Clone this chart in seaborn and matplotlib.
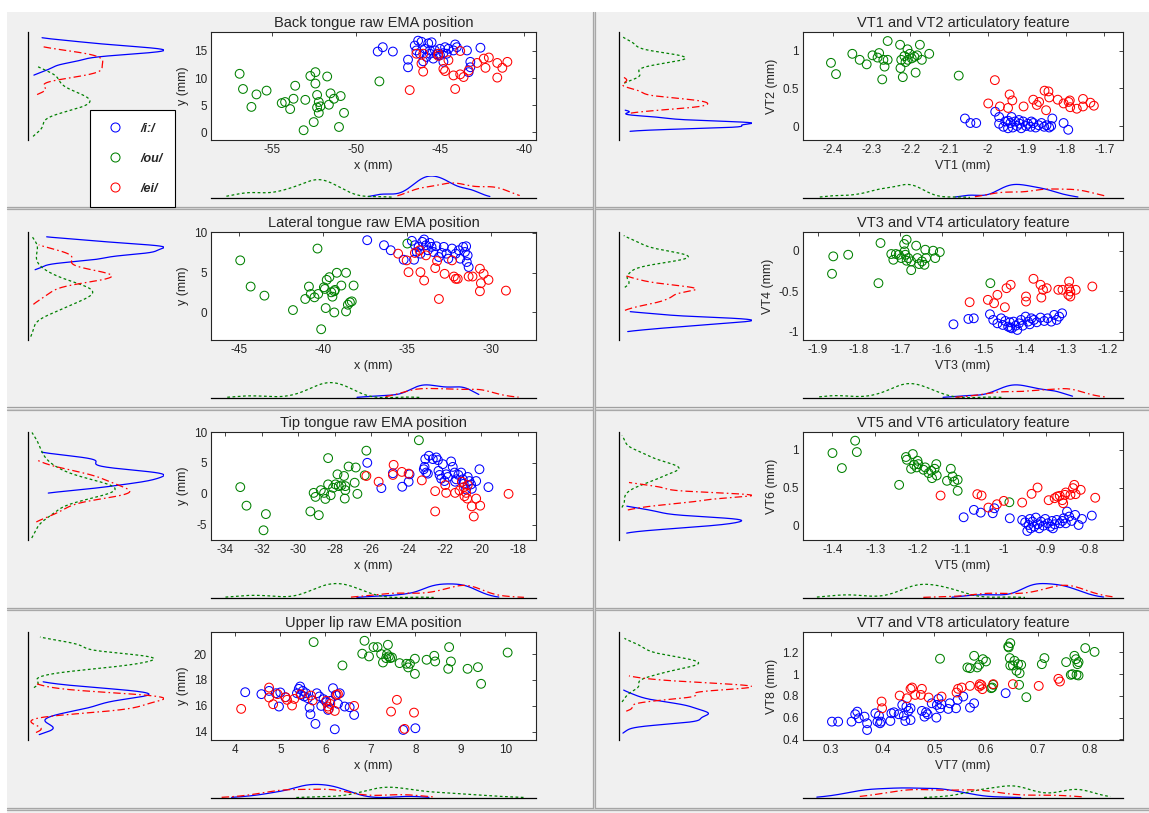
import numpy as np
import pandas as pd
import matplotlib
matplotlib.use("Agg")
import matplotlib.pyplot as plt
from matplotlib.lines import Line2D
from matplotlib.patches import Rectangle
from matplotlib.ticker import FuncFormatter
import seaborn as sns

# ---------------------------------------------------------------- data
VOWELS = ["/i:/", "/ou/", "/ei/"]

# Back tongue sensor (mm)
back_i_x = [-48.7, -48.4, -47.8, -46.9, -46.9, -46.5, -46.3, -46.1, -45.7, -45.5, -45.9, -45.6,
            -45.3, -45.0, -44.7, -44.5, -44.8, -45.2, -45.4, -45.8, -46.2, -46.0, -44.8, -44.1,
            -44.0, -44.2, -43.4, -43.2, -43.2, -43.3, -42.6, -46.4, -45.6, -45.0, -44.6]
back_i_y = [14.9, 15.7, 14.9, 13.4, 12.0, 16.0, 16.9, 16.7, 16.4, 16.6, 15.4, 15.1,
            15.1, 15.4, 15.7, 15.4, 14.6, 14.4, 13.6, 13.9, 14.5, 13.1, 13.0, 16.2,
            15.7, 15.1, 15.1, 13.0, 12.0, 11.1, 15.6, 15.1, 14.5, 14.2, 14.5]
back_u_x = [-56.9, -56.7, -55.9, -55.3, -56.2, -54.4, -54.2, -53.9, -53.7, -53.6, -53.0, -53.1,
            -52.7, -52.4, -52.4, -52.3, -52.2, -52.3, -52.2, -52.1, -52.5, -51.7, -51.5, -51.6,
            -51.3, -50.9, -51.0, -50.7, -48.6]
back_u_y = [10.8, 8.0, 7.0, 7.7, 4.7, 5.4, 5.6, 4.3, 6.2, 8.6, 6.0, 0.4,
            10.4, 11.1, 9.0, 6.9, 5.6, 4.6, 3.6, 4.8, 1.9, 10.3, 7.2, 5.1,
            6.2, 6.7, 1.0, 3.6, 9.4]
back_e_x = [-46.8, -46.4, -46.1, -46.0, -46.0, -45.1, -44.8, -44.7, -44.5, -44.1, -43.8, -43.8,
            -43.6, -43.3, -42.8, -42.4, -42.3, -42.1, -41.6, -41.6, -41.3, -41.0, -44.2, -45.1]
back_e_y = [7.8, 14.5, 12.7, 11.2, 14.5, 14.5, 11.7, 11.3, 13.3, 8.0, 10.7, 15.0,
            10.2, 11.4, 12.8, 13.6, 11.9, 13.8, 10.1, 12.8, 11.9, 13.0, 10.5, 14.1]

# VT1 / VT2 features
vt12_i_x = [-2.059, -2.045, -2.030, -1.981, -1.971, -1.971, -1.960, -1.955, -1.948, -1.942, -1.939,
            -1.936, -1.930, -1.925, -1.918, -1.914, -1.909, -1.902, -1.897, -1.890, -1.883, -1.877,
            -1.869, -1.862, -1.855, -1.849, -1.842, -1.834, -1.837, -1.805, -1.793, -1.948, -1.920,
            -1.888]
vt12_i_y = [0.10, 0.04, 0.04, 0.19, 0.12, 0.03, -0.01, 0.06, -0.03, 0.04, 0.12,
            -0.02, 0.06, 0.00, 0.03, -0.03, 0.06, 0.00, 0.03, -0.01, 0.04, -0.02,
            0.01, 0.04, -0.01, 0.01, -0.02, 0.10, 0.00, 0.04, -0.05, 0.07, 0.08,
            0.06]
vt12_u_x = [-2.404, -2.391, -2.349, -2.330, -2.312, -2.297, -2.280, -2.284, -2.269, -2.266, -2.258,
            -2.258, -2.272, -2.226, -2.223, -2.225, -2.219, -2.215, -2.207, -2.206, -2.201, -2.196,
            -2.189, -2.186, -2.182, -2.175, -2.170, -2.151, -2.075, -2.212]
vt12_u_y = [0.84, 0.69, 0.96, 0.88, 0.82, 0.94, 0.97, 0.91, 0.88, 0.79, 0.88,
            1.13, 0.62, 1.08, 0.88, 0.77, 0.65, 0.93, 1.02, 0.88, 0.96, 0.90,
            0.92, 0.71, 0.94, 1.08, 0.88, 0.96, 0.67, 0.85]
vt12_e_x = [-1.982, -1.999, -1.969, -1.948, -1.944, -1.937, -1.908, -1.883, -1.874, -1.868, -1.850,
            -1.854, -1.844, -1.842, -1.820, -1.805, -1.792, -1.788, -1.771, -1.755, -1.755, -1.736,
            -1.727, -1.789]
vt12_e_y = [0.61, 0.30, 0.26, 0.24, 0.42, 0.34, 0.26, 0.35, 0.28, 0.32, 0.21,
            0.47, 0.46, 0.38, 0.35, 0.30, 0.32, 0.25, 0.23, 0.26, 0.36, 0.31,
            0.27, 0.34]

# Lateral tongue sensor (mm)
lat_i_x = [-37.35, -36.35, -35.95, -35.18, -34.56, -34.69, -34.51, -34.29, -34.07, -33.96, -33.85,
           -33.74, -33.63, -33.52, -33.41, -33.23, -33.08, -32.92, -32.79, -32.63, -32.52, -32.30,
           -32.08, -31.90, -31.81, -31.64, -31.53, -31.42, -31.37, -31.46, -31.31, -34.18, -34.40]
lat_i_y = [9.07, 8.44, 7.81, 6.62, 6.62, 8.99, 8.44, 8.23, 8.86, 9.16, 8.44,
           7.81, 8.73, 8.23, 7.59, 8.31, 6.96, 7.47, 8.23, 7.38, 6.75, 8.02,
           7.38, 7.81, 6.75, 8.23, 7.59, 6.33, 7.17, 8.31, 5.70, 7.38, 7.59]
lat_u_x = [-44.91, -44.29, -43.47, -41.77, -41.04, -40.82, -40.71, -40.49, -40.31, -40.27, -40.09,
           -39.93, -39.87, -39.82, -39.76, -39.60, -39.49, -39.42, -39.31, -39.31, -39.27, -39.16,
           -38.89, -38.61, -38.61, -38.50, -38.38, -38.27, -38.16, -34.96]
lat_u_y = [6.54, 3.25, 2.11, 0.30, 1.69, 3.25, 2.32, 1.90, 8.02, 2.32, -2.11,
           3.16, 2.95, 0.55, 4.09, 4.43, 2.53, 1.98, 2.66, 0.00, 2.83, 4.98,
           3.38, 4.98, 0.13, 0.97, 1.27, 1.39, 3.38, 8.65]
lat_e_x = [-35.51, -35.00, -34.89, -34.51, -34.23, -34.18, -33.96, -33.30, -33.19, -33.08, -32.74,
           -32.30, -32.19, -32.08, -31.96, -31.31, -31.08, -30.64, -30.64, -30.58, -30.42, -30.13,
           -29.09, -33.85]
lat_e_y = [7.38, 6.54, 5.06, 7.47, 7.81, 5.06, 4.01, 5.57, 6.46, 1.69, 4.85,
           6.54, 4.51, 4.22, 4.22, 4.51, 4.51, 2.66, 5.49, 3.67, 4.85, 4.09,
           2.74, 7.17]

# VT3 / VT4 features
vt34_i_x = [-1.572, -1.536, -1.523, -1.484, -1.476, -1.466, -1.457, -1.453, -1.447, -1.440, -1.436,
            -1.431, -1.427, -1.422, -1.418, -1.414, -1.409, -1.405, -1.398, -1.392, -1.384, -1.378,
            -1.371, -1.362, -1.353, -1.345, -1.336, -1.329, -1.323, -1.317, -1.310, -1.435, -1.388]
vt34_i_y = [-0.909, -0.843, -0.835, -0.785, -0.855, -0.897, -0.835, -0.917, -0.868, -0.938, -0.884,
            -0.959, -0.876, -0.926, -0.979, -0.897, -0.855, -0.926, -0.814, -0.876, -0.835, -0.855,
            -0.884, -0.826, -0.868, -0.835, -0.876, -0.793, -0.855, -0.814, -0.773, -0.950, -0.909]
vt34_u_x = [-1.865, -1.862, -1.826, -1.748, -1.753, -1.722, -1.717, -1.711, -1.704, -1.698, -1.691,
            -1.685, -1.690, -1.688, -1.685, -1.681, -1.674, -1.674, -1.662, -1.659, -1.655, -1.648,
            -1.642, -1.640, -1.638, -1.621, -1.616, -1.605, -1.483]
vt34_u_y = [-0.285, -0.070, -0.050, 0.095, -0.401, -0.041, -0.112, -0.041, -0.050, -0.091, 0.083,
            0.136, -0.008, -0.050, -0.124, -0.091, -0.240, -0.132, 0.062, -0.091, -0.165, -0.132,
            -0.174, 0.012, -0.091, 0.000, -0.091, -0.017, -0.401]
vt34_e_x = [-1.533, -1.489, -1.474, -1.466, -1.448, -1.444, -1.434, -1.397, -1.397, -1.379, -1.362,
            -1.360, -1.356, -1.347, -1.319, -1.309, -1.293, -1.293, -1.295, -1.290, -1.277, -1.237,
            -1.290]
vt34_e_y = [-0.636, -0.607, -0.649, -0.545, -0.698, -0.463, -0.421, -0.566, -0.628, -0.347, -0.421,
            -0.579, -0.483, -0.463, -0.483, -0.483, -0.380, -0.463, -0.545, -0.566, -0.483, -0.442,
            -0.504]

# Tongue tip sensor (mm)
tip_i_x = [-26.22, -25.45, -24.82, -24.31, -23.96, -23.91, -23.13, -23.09, -23.00, -23.05, -22.91,
           -22.85, -22.64, -22.45, -22.36, -22.33, -22.27, -22.18, -22.09, -22.00, -21.91, -21.82,
           -21.64, -21.55, -21.45, -21.42, -21.36, -21.24, -21.09, -21.00, -20.95, -20.82, -20.73,
           -20.64, -20.55, -20.51, -20.27, -20.09, -19.60]
tip_i_y = [5.02, 0.93, 3.33, 1.15, 1.96, 3.16, 3.98, 4.36, 3.44, 5.62, 3.27,
           6.16, 5.62, 5.89, 5.46, 3.71, 3.06, 2.45, 4.80, 2.07, 3.16, 2.73,
           5.24, 4.36, 3.44, 1.96, 2.35, 3.06, 3.44, 2.35, 1.64, 0.71, 2.73,
           2.07, 1.53, 0.82, 2.07, 3.98, 1.09]
tip_u_x = [-33.16, -32.82, -31.76, -31.89, -29.33, -28.87, -29.15, -29.05, -28.76, -28.58, -28.51,
           -28.36, -28.36, -28.22, -28.09, -27.96, -27.85, -27.78, -27.64, -27.49, -27.45, -27.42,
           -27.42, -27.24, -26.91, -26.85, -26.76, -26.36, -26.27, -23.40]
tip_u_y = [1.09, -1.91, -3.27, -5.89, -2.84, -3.44, 0.16, -0.49, 0.60, 0.16, -0.82,
           5.78, 1.53, -0.22, 0.98, 1.53, 3.16, 1.25, 1.36, 2.89, -0.76, 1.25,
           0.60, 4.42, 1.80, 4.26, 0.00, 3.00, 6.98, 8.67]
tip_e_x = [-26.27, -25.60, -24.78, -24.82, -24.33, -23.96, -23.24, -22.51, -22.51, -21.96, -21.91,
           -21.42, -21.18, -21.05, -20.95, -20.91, -20.82, -20.76, -20.73, -20.51, -20.40, -20.27,
           -20.05, -18.50]
tip_e_y = [2.89, 1.96, 4.69, 3.06, 3.55, 3.27, 2.18, 0.44, -2.84, 1.42, 0.16,
           0.16, 0.55, 1.96, 1.09, -0.38, 0.16, -0.76, 1.42, -2.02, -3.66, -0.76,
           -1.91, 0.00]

# VT5 / VT6 features
vt56_i_x = [-1.093, -1.069, -1.053, -1.025, -1.021, -0.985, -0.956, -0.949, -0.944, -0.941, -0.938,
            -0.936, -0.932, -0.928, -0.924, -0.920, -0.916, -0.912, -0.906, -0.902, -0.896, -0.890,
            -0.886, -0.880, -0.875, -0.868, -0.862, -0.859, -0.854, -0.851, -0.846, -0.840, -0.832,
            -0.824, -0.816, -0.793, -0.884]
vt56_i_y = [0.114, 0.211, 0.175, 0.167, 0.232, 0.101, 0.079, 0.048, -0.066, 0.013, 0.092,
            -0.031, 0.057, -0.009, 0.110, 0.022, -0.031, 0.057, 0.004, 0.092, 0.035, -0.009,
            0.066, 0.022, 0.079, 0.035, 0.066, 0.101, 0.035, 0.189, 0.123, 0.066, 0.145,
            0.013, 0.092, 0.136, -0.031]
vt56_u_x = [-1.400, -1.378, -1.347, -1.343, -1.244, -1.228, -1.226, -1.216, -1.212, -1.209, -1.203,
            -1.201, -1.199, -1.187, -1.183, -1.175, -1.169, -1.167, -1.161, -1.157, -1.156, -1.132,
            -1.123, -1.119, -1.115, -1.107, -1.107, -0.986]
vt56_u_y = [0.956, 0.759, 1.118, 0.969, 0.539, 0.904, 0.868, 0.750, 0.943, 0.803, 0.768,
            0.855, 0.811, 0.737, 0.768, 0.693, 0.724, 0.627, 0.750, 0.811, 0.662, 0.592,
            0.750, 0.649, 0.583, 0.605, 0.461, 0.311]
vt56_e_x = [-1.147, -1.061, -1.051, -1.035, -1.015, -0.999, -0.956, -0.934, -0.920, -0.894, -0.880,
            -0.874, -0.868, -0.862, -0.860, -0.856, -0.854, -0.843, -0.837, -0.834, -0.831, -0.819,
            -0.785]
vt56_e_y = [0.399, 0.417, 0.399, 0.241, 0.285, 0.329, 0.307, 0.421, 0.504, 0.338, 0.364,
            0.386, 0.395, 0.338, 0.298, 0.408, 0.439, 0.408, 0.496, 0.539, 0.417, 0.474,
            0.370]

# Upper lip sensor (mm)
lip_i_x = [4.22, 4.58, 4.75, 4.90, 4.97, 5.00, 5.11, 5.37, 5.41, 5.44, 5.46, 5.50,
           5.53, 5.57, 5.61, 5.65, 5.67, 5.78, 5.81, 5.87, 5.91, 5.96, 6.02, 6.06,
           6.11, 6.17, 6.21, 6.23, 6.28, 6.32, 6.43, 6.54, 6.64, 7.73, 8.00]
lip_i_y = [17.05, 16.90, 17.15, 16.97, 15.94, 17.03, 16.66, 16.97, 17.31, 17.49, 16.84, 17.15,
           16.72, 16.97, 16.59, 15.86, 15.34, 14.60, 16.97, 16.72, 15.99, 16.51, 16.28, 15.68,
           16.38, 17.36, 14.18, 16.84, 16.15, 16.97, 15.94, 15.89, 15.29, 14.13, 14.26]
lip_u_x = [5.74, 6.38, 6.82, 6.87, 6.97, 7.07, 7.16, 7.24, 7.28, 7.35, 7.39, 7.37,
           7.41, 7.44, 7.48, 7.65, 7.80, 7.84, 7.88, 7.99, 7.99, 8.25, 8.42, 8.44,
           8.75, 8.73, 8.79, 9.16, 9.39, 9.46, 10.05]
lip_u_y = [20.93, 19.12, 20.03, 21.03, 19.82, 20.54, 20.54, 20.00, 19.35, 19.69, 20.72, 20.00,
           19.82, 19.69, 19.74, 19.30, 19.25, 18.97, 19.25, 19.64, 18.47, 19.56, 19.87, 19.43,
           20.54, 18.86, 19.43, 18.86, 18.99, 17.70, 20.12]
lip_e_x = [4.13, 4.75, 4.75, 4.84, 4.94, 5.12, 5.15, 5.26, 5.31, 5.45, 5.68, 5.72,
           6.02, 6.06, 6.08, 6.11, 6.21, 6.25, 6.28, 6.64, 7.59, 7.46, 7.76, 7.97]
lip_e_y = [15.76, 17.41, 16.64, 16.12, 16.90, 16.66, 16.46, 16.02, 16.53, 16.90, 16.79, 16.41,
           16.38, 15.94, 15.76, 16.15, 15.60, 16.84, 16.90, 15.99, 16.46, 15.55, 14.21, 15.47]

# VT7 / VT8 features
vt78_i_x = [0.302, 0.314, 0.340, 0.347, 0.351, 0.354, 0.365, 0.370, 0.370, 0.386, 0.390,
            0.393, 0.395, 0.397, 0.415, 0.417, 0.422, 0.431, 0.438, 0.441, 0.444, 0.446,
            0.450, 0.454, 0.454, 0.476, 0.481, 0.484, 0.487, 0.495, 0.504, 0.505, 0.508,
            0.511, 0.514, 0.527, 0.530, 0.542, 0.545, 0.556, 0.569, 0.577, 0.638]
vt78_i_y = [0.563, 0.563, 0.563, 0.631, 0.655, 0.594, 0.609, 0.548, 0.486, 0.640, 0.563,
            0.618, 0.548, 0.563, 0.569, 0.640, 0.649, 0.631, 0.717, 0.618, 0.569, 0.702,
            0.662, 0.578, 0.686, 0.662, 0.609, 0.649, 0.631, 0.732, 0.600, 0.717, 0.772,
            0.686, 0.723, 0.680, 0.732, 0.686, 0.763, 0.794, 0.692, 0.732, 0.825]
vt78_u_x = [0.511, 0.564, 0.569, 0.577, 0.583, 0.587, 0.594, 0.600, 0.610, 0.612, 0.614,
            0.643, 0.644, 0.647, 0.647, 0.646, 0.652, 0.655, 0.659, 0.665, 0.662, 0.668,
            0.664, 0.678, 0.708, 0.713, 0.755, 0.764, 0.767, 0.771, 0.774, 0.779, 0.775,
            0.777, 0.779, 0.792, 0.810]
vt78_u_y = [1.142, 1.062, 1.055, 1.169, 1.062, 1.086, 1.138, 1.117, 0.871, 0.877, 0.902,
            1.255, 1.246, 1.286, 1.080, 1.148, 1.080, 1.123, 1.031, 1.009, 1.092, 1.086,
            0.902, 0.788, 1.092, 1.148, 1.111, 0.994, 1.000, 1.169, 1.138, 1.111, 0.994,
            1.092, 0.988, 1.240, 1.205]
vt78_e_x = [0.399, 0.398, 0.433, 0.447, 0.454, 0.457, 0.463, 0.476, 0.474, 0.489, 0.514,
            0.543, 0.546, 0.553, 0.569, 0.587, 0.588, 0.593, 0.614, 0.652, 0.702, 0.740,
            0.743, 0.591]
vt78_e_y = [0.686, 0.748, 0.803, 0.778, 0.865, 0.877, 0.809, 0.865, 0.809, 0.785, 0.794,
            0.831, 0.865, 0.877, 0.892, 0.886, 0.908, 0.862, 0.908, 0.908, 0.892, 0.957,
            0.932, 0.900]

# ---------------------------------------------------------------- panel setup
PANELS = [
    dict(title="Back tongue raw EMA position", xlabel="x (mm)", ylabel="y (mm)",
         series=[(back_i_x, back_i_y), (back_u_x, back_u_y), (back_e_x, back_e_y)],
         xlim=(-58.6, -39.3), ylim=(-1.4, 18.5),
         xticks=[-55, -50, -45, -40], yticks=[0, 5, 10, 15], head=1.05),
    dict(title="VT1 and VT2 articulatory feature", xlabel="VT1 (mm)", ylabel="VT2 (mm)",
         series=[(vt12_i_x, vt12_i_y), (vt12_u_x, vt12_u_y), (vt12_e_x, vt12_e_y)],
         xlim=(-2.476, -1.652), ylim=(-0.186, 1.25),
         xticks=[-2.4, -2.3, -2.2, -2.1, -2.0, -1.9, -1.8, -1.7], yticks=[0, 0.5, 1], head=1.7),
    dict(title="Lateral tongue raw EMA position", xlabel="x (mm)", ylabel="y (mm)",
         series=[(lat_i_x, lat_i_y), (lat_u_x, lat_u_y), (lat_e_x, lat_e_y)],
         xlim=(-46.65, -27.3), ylim=(-3.46, 10.1),
         xticks=[-45, -40, -35, -30], yticks=[0, 5, 10], head=1.5),
    dict(title="VT3 and VT4 articulatory feature", xlabel="VT3 (mm)", ylabel="VT4 (mm)",
         series=[(vt34_i_x, vt34_i_y), (vt34_u_x, vt34_u_y), (vt34_e_x, vt34_e_y)],
         xlim=(-1.935, -1.163), ylim=(-1.103, 0.231),
         xticks=[-1.9, -1.8, -1.7, -1.6, -1.5, -1.4, -1.3, -1.2], yticks=[-1, -0.5, 0], head=1.6),
    dict(title="Tip tongue raw EMA position", xlabel="x (mm)", ylabel="y (mm)",
         series=[(tip_i_x, tip_i_y), (tip_u_x, tip_u_y), (tip_e_x, tip_e_y)],
         xlim=(-34.76, -17.0), ylim=(-7.46, 10.0),
         xticks=[-34, -32, -30, -28, -26, -24, -22, -20, -18], yticks=[-5, 0, 5, 10], head=1.6),
    dict(title="VT5 and VT6 articulatory feature", xlabel="VT5 (mm)", ylabel="VT6 (mm)",
         series=[(vt56_i_x, vt56_i_y), (vt56_u_x, vt56_u_y), (vt56_e_x, vt56_e_y)],
         xlim=(-1.469, -0.72), ylim=(-0.184, 1.232),
         xticks=[-1.4, -1.3, -1.2, -1.1, -1.0, -0.9, -0.8], yticks=[0, 0.5, 1], head=1.6),
    dict(title="Upper lip raw EMA position", xlabel="x (mm)", ylabel="y (mm)",
         series=[(lip_i_x, lip_i_y), (lip_u_x, lip_u_y), (lip_e_x, lip_e_y)],
         xlim=(3.46, 10.68), ylim=(13.35, 21.71),
         xticks=[4, 5, 6, 7, 8, 9, 10], yticks=[14, 16, 18, 20], head=1.7),
    dict(title="VT7 and VT8 articulatory feature", xlabel="VT7 (mm)", ylabel="VT8 (mm)",
         series=[(vt78_i_x, vt78_i_y), (vt78_u_x, vt78_u_y), (vt78_e_x, vt78_e_y)],
         xlim=(0.246, 0.865), ylim=(0.394, 1.388),
         xticks=[0.3, 0.4, 0.5, 0.6, 0.7, 0.8], yticks=[0.4, 0.6, 0.8, 1.0, 1.2], head=1.9),
]

COLORS = ["#0000ff", "#008000", "#ff0000"]
LINESTYLES = ["-", (0, (2.2, 2.0)), (0, (6, 2.5, 1.3, 2.5))]
TEXT = "#262626"

# pixel layout of one column: scatter box, left marginal, bottom marginal
COLS = [dict(sx=211, sw=325, lx=28, lw=136), dict(sx=803, sw=320, lx=619, lw=133)]
ROW_TOP = [32, 232, 432, 632]
SCATTER_H = 108

W, H = 1149, 813

sns.set_style("white")
plt.rcParams["font.family"] = ["Liberation Sans", "DejaVu Sans"]
plt.rcParams["axes.unicode_minus"] = False

fig = plt.figure(figsize=(W / 100, H / 100), dpi=100)
fig.patch.set_facecolor("white")


def px_axes(x0, y0, w, h):
    return fig.add_axes([x0 / W, 1 - (y0 + h) / H, w / W, h / H])


# window background and panel separators
fig.add_artist(Rectangle((7 / W, 0), (W - 7) / W, (H - 12) / H, transform=fig.transFigure,
                         facecolor="#f0f0f0", edgecolor="none", zorder=-10))
for yy in [207, 407.5, 608, 807.5]:
    for dy, col in [(0, "#a0a0a0"), (1.2, "#d4d4d4"), (2.4, "#a8a8a8")]:
        fig.add_artist(Line2D([7 / W, 1], [1 - (yy + dy) / H] * 2, transform=fig.transFigure,
                              color=col, lw=0.9, zorder=-5))
for dx, col in [(0, "#a0a0a0"), (1.2, "#d4d4d4"), (2.4, "#a8a8a8")]:
    fig.add_artist(Line2D([(592.5 + dx) / W] * 2, [1 - 12 / H, 1 - 808 / H],
                          transform=fig.transFigure, color=col, lw=0.9, zorder=-5))

fmt = FuncFormatter(lambda v, p: "%g" % round(v, 6))

for k, pnl in enumerate(PANELS):
    row, colidx = divmod(k, 2)
    c = COLS[colidx]
    top = ROW_TOP[row]

    frames = []
    for vowel, (xs, ys) in zip(VOWELS, pnl["series"]):
        frames.append(pd.DataFrame({"x": xs, "y": ys, "vowel": vowel}))
    df = pd.concat(frames, ignore_index=True)

    # main scatter
    ax = px_axes(c["sx"], top, c["sw"], SCATTER_H)
    ax.set_facecolor("white")
    for vowel, color in zip(VOWELS, COLORS):
        sub = df[df["vowel"] == vowel]
        sns.scatterplot(data=sub, x="x", y="y", ax=ax, color=color, facecolor="none",
                        edgecolor=color, s=40, linewidth=0.75, marker="o", legend=False)
    ax.set_xlim(*pnl["xlim"])
    ax.set_ylim(*pnl["ylim"])
    ax.set_xticks(pnl["xticks"])
    ax.set_yticks(pnl["yticks"])
    ax.xaxis.set_major_formatter(fmt)
    ax.yaxis.set_major_formatter(fmt)
    ax.tick_params(direction="in", length=3, width=0.6, top=True, right=True,
                   labelsize=8.5, colors=TEXT, pad=3)
    for sp in ax.spines.values():
        sp.set_visible(True)
        sp.set_color(TEXT)
        sp.set_linewidth(0.8)
    ax.set_title(pnl["title"], fontsize=10.5, color=TEXT, pad=3.5)
    ax.set_xlabel(pnl["xlabel"], fontsize=9, color=TEXT, labelpad=2.5)
    ax.set_ylabel(pnl["ylabel"], fontsize=9, color=TEXT, labelpad=3)

    # left marginal density of y
    axl = px_axes(c["lx"], top, c["lw"], SCATTER_H)
    axl.set_facecolor("none")
    for vowel, color, ls in zip(VOWELS, COLORS, LINESTYLES):
        sub = df[df["vowel"] == vowel]
        sns.kdeplot(data=sub, y="y", ax=axl, color=color, linestyle=ls, linewidth=0.9,
                    bw_adjust=0.8, cut=1)
    xmax = max(line.get_xdata().max() for line in axl.get_lines())
    axl.set_xlim(0, xmax)
    axl.set_ylim(*pnl["ylim"])
    axl.set_xticks([])
    axl.set_yticks([])
    axl.set_xlabel("")
    axl.set_ylabel("")
    for name, sp in axl.spines.items():
        sp.set_visible(name == "left")
        sp.set_color("black")
        sp.set_linewidth(0.9)

    # bottom marginal density of x
    axb = px_axes(c["sx"], top + 144, c["sw"], 22)
    axb.set_facecolor("none")
    for vowel, color, ls in zip(VOWELS, COLORS, LINESTYLES):
        sub = df[df["vowel"] == vowel]
        sns.kdeplot(data=sub, x="x", ax=axb, color=color, linestyle=ls, linewidth=0.9,
                    bw_adjust=0.8, cut=1)
    ymax = max(line.get_ydata().max() for line in axb.get_lines())
    axb.set_ylim(0, ymax * pnl["head"] / 1.05 * 1.0)
    axb.set_xlim(*pnl["xlim"])
    axb.set_xticks([])
    axb.set_yticks([])
    axb.set_xlabel("")
    axb.set_ylabel("")
    for name, sp in axb.spines.items():
        sp.set_visible(name == "bottom")
        sp.set_color("black")
        sp.set_linewidth(0.9)

# vowel legend in the first panel
handles = [Line2D([], [], marker="o", linestyle="none", markerfacecolor="none",
                  markeredgecolor=col, markersize=6.5, markeredgewidth=0.75) for col in COLORS]
leg = fig.legend(handles, VOWELS, loc="upper left", bbox_to_anchor=(90 / W, 1 - 110 / H),
                 bbox_transform=fig.transFigure, frameon=True, fancybox=False,
                 edgecolor="black", framealpha=1, borderpad=1.0, labelspacing=1.45,
                 handlelength=2.0, handletextpad=1.0, borderaxespad=0,
                 prop=dict(weight="bold", style="italic", size=9))
leg.get_frame().set_linewidth(0.8)
leg.get_frame().set_facecolor("white")
for t in leg.get_texts():
    t.set_color(TEXT)

fig.savefig("out.png", dpi=100)
